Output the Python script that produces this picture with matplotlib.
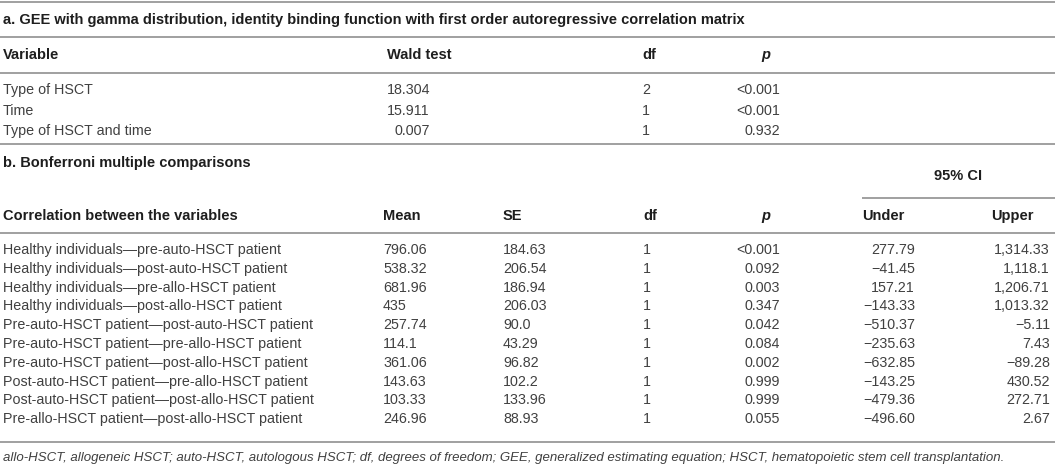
import matplotlib
matplotlib.use("Agg")
from matplotlib import pyplot as plt

# part a: GEE results
var_a = ["Type of HSCT", "Time", "Type of HSCT and time"]
wald_a = ["18.304", "15.911", "0.007"]
df_a = ["2", "1", "1"]
p_a = ["<0.001", "<0.001", "0.932"]

# part b: Bonferroni multiple comparisons
comparisons = [
    "Healthy individuals\u2014pre-auto-HSCT patient",
    "Healthy individuals\u2014post-auto-HSCT patient",
    "Healthy individuals\u2014pre-allo-HSCT patient",
    "Healthy individuals\u2014post-allo-HSCT patient",
    "Pre-auto-HSCT patient\u2014post-auto-HSCT patient",
    "Pre-auto-HSCT patient\u2014pre-allo-HSCT patient",
    "Pre-auto-HSCT patient\u2014post-allo-HSCT patient",
    "Post-auto-HSCT patient\u2014pre-allo-HSCT patient",
    "Post-auto-HSCT patient\u2014post-allo-HSCT patient",
    "Pre-allo-HSCT patient\u2014post-allo-HSCT patient",
]
mean_b = ["796.06", "538.32", "681.96", "435", "257.74", "114.1", "361.06", "143.63", "103.33", "246.96"]
se_b = ["184.63", "206.54", "186.94", "206.03", "90.0", "43.29", "96.82", "102.2", "133.96", "88.93"]
df_b = ["1"] * 10
p_b = ["<0.001", "0.092", "0.003", "0.347", "0.042", "0.084", "0.002", "0.999", "0.999", "0.055"]
ci_under = ["277.79", "\u221241.45", "157.21", "\u2212143.33", "\u2212510.37", "\u2212235.63",
            "\u2212632.85", "\u2212143.25", "\u2212479.36", "\u2212496.60"]
ci_upper = ["1,314.33", "1,118.1", "1,206.71", "1,013.32", "\u22125.11", "7.43",
            "\u221289.28", "430.52", "272.71", "2.67"]

title_a = "a. GEE with gamma distribution, identity binding function with first order autoregressive correlation matrix"
title_b = "b. Bonferroni multiple comparisons"
footnote = ("allo-HSCT, allogeneic HSCT; auto-HSCT, autologous HSCT; df, degrees of freedom; "
            "GEE, generalized estimating equation; HSCT, hematopoietic stem cell transplantation.")

W, H = 1055, 468
fig = plt.figure(figsize=(W / 100, H / 100), dpi=100)
ax = fig.add_axes([0, 0, 1, 1])
ax.set_xlim(0, W)
ax.set_ylim(H, 0)
ax.axis("off")

plt.rcParams["font.family"] = ["Liberation Sans", "DejaVu Sans"]
fs = 10.3
fs_bold = 10.5
body = "#404040"
head = "#1e1e1e"
rule = "#a0a0a0"


def hline(y, x0=0, x1=W):
    ax.plot([x0, x1], [y, y], color=rule, lw=1.4, solid_capstyle="butt")


def txt(x, y, s, ha="left", bold=False, italic=False, color=None, size=None):
    if size is None:
        size = fs_bold if bold else fs
    ax.text(x, y, s, ha=ha, va="center", fontsize=size,
            fontweight="bold" if bold else "normal",
            fontstyle="italic" if italic else "normal",
            color=color or (head if bold else body))


# ---- part a
hline(2)
txt(3, 20, title_a, bold=True)
hline(37)
txt(3, 55, "Variable", bold=True)
txt(387, 55, "Wald test", bold=True)
txt(642, 55, "df", bold=True)
txt(766, 55, "p", bold=True, italic=True, ha="center")
hline(73)
for i, (v, w, d, p) in enumerate(zip(var_a, wald_a, df_a, p_a)):
    y = 90 + i * 20.7
    txt(3, y, v)
    txt(430, y, w, ha="right")
    txt(642, y, d)
    txt(780, y, p, ha="right")
hline(144)

# ---- part b
txt(3, 163, title_b, bold=True)
txt(958, 176, "95% CI", bold=True, ha="center")
hline(198, 862, W)
hy = 216
txt(3, hy, "Correlation between the variables", bold=True)
txt(383, hy, "Mean", bold=True)
txt(503, hy, "SE", bold=True)
txt(643, hy, "df", bold=True)
txt(766, hy, "p", bold=True, italic=True, ha="center")
txt(862, hy, "Under", bold=True)
txt(991, hy, "Upper", bold=True)
hline(233)
for i in range(len(comparisons)):
    y = 250 + i * 18.8
    txt(3, y, comparisons[i])
    txt(383, y, mean_b[i])
    txt(503, y, se_b[i])
    txt(643, y, df_b[i])
    txt(780, y, p_b[i], ha="right")
    txt(915, y, ci_under[i], ha="right")
    txt(1050, y, ci_upper[i], ha="right")
hline(442)

txt(3, 458, footnote, italic=True, size=9.5)

fig.savefig("out.png", dpi=100, facecolor="white")
